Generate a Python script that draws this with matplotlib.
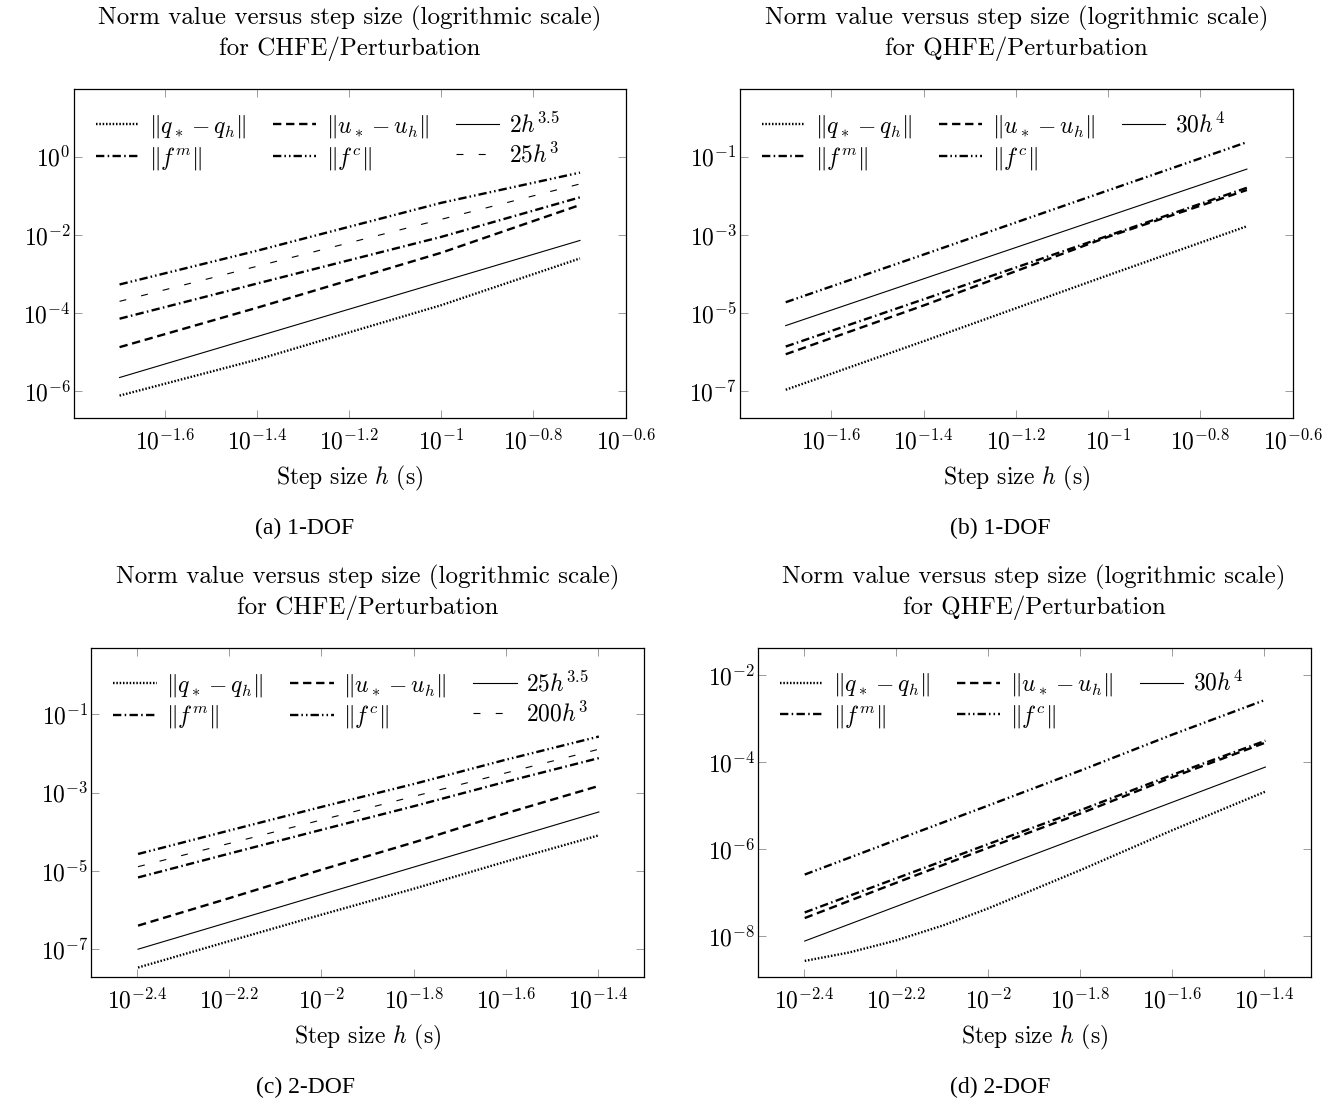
import matplotlib
matplotlib.use('Agg')
import matplotlib.pyplot as plt
from matplotlib.ticker import FixedLocator, NullLocator
from matplotlib.lines import Line2D

# ---------- fonts (LaTeX look) ----------
plt.rcParams['font.family'] = 'serif'
plt.rcParams['font.serif'] = ['cmr10']
plt.rcParams['mathtext.fontset'] = 'cm'
plt.rcParams['axes.unicode_minus'] = False
plt.rcParams['lines.scale_dashes'] = False

# ---------- data ----------
h_1dof = [0.02, 0.04, 0.1, 0.2]
h_2dof = [0.004, 0.0063, 0.01, 0.016, 0.025, 0.04]
h_2dof_fine = [0.004, 0.005, 0.0063, 0.008, 0.01, 0.016, 0.025, 0.04]
h_fit_1dof = [0.02, 0.2]
h_fit_2dof = [0.004, 0.04]

# (a) 1-DOF, CHFE
a_q = [7.8e-7, 6.6e-6, 1.6e-4, 2.5e-3]
a_u = [1.35e-5, 1.4e-4, 3.5e-3, 5.8e-2]
a_fm = [7.2e-5, 5.8e-4, 8.9e-3, 9.1e-2]
a_fc = [5.4e-4, 4.0e-3, 6.6e-2, 0.39]
a_fit1 = [2.26e-6, 7.2e-3]      # 2h^3.5
a_fit2 = [2.0e-4, 0.2]          # 25h^3

# (b) 1-DOF, QHFE
b_q = [1.1e-7, 1.95e-6, 9.3e-5, 1.66e-3]
b_u = [8.9e-7, 1.6e-5, 8.9e-4, 1.4e-2]
b_fm = [1.4e-6, 2.3e-5, 9.5e-4, 1.6e-2]
b_fc = [1.9e-5, 3.2e-4, 1.37e-2, 0.234]
b_fit1 = [4.8e-6, 4.8e-2]       # 30h^4

# (c) 2-DOF, CHFE
c_q = [3.4e-8, 1.6e-7, 7.6e-7, 3.6e-6, 1.7e-5, 8.1e-5]
c_u = [4.0e-7, 2.0e-6, 1.07e-5, 5.5e-5, 2.9e-4, 1.48e-3]
c_fm = [6.8e-6, 2.75e-5, 1.12e-4, 4.6e-4, 1.86e-3, 7.6e-3]
c_fc = [2.7e-5, 1.07e-4, 4.3e-4, 1.7e-3, 6.8e-3, 2.7e-2]
c_fit1 = [1.0e-7, 3.2e-4]       # 25h^3.5
c_fit2 = [1.28e-5, 1.28e-2]     # 200h^3

# (d) 2-DOF, QHFE
d_q = [2.69e-9, 4.21e-9, 7.89e-9, 1.77e-8, 4.32e-8, 3.41e-7, 2.66e-6, 2.1e-5]
d_u = [2.6e-8, 1.66e-7, 1.07e-6, 6.8e-6, 4.4e-5, 2.8e-4]
d_fm = [3.5e-8, 2.1e-7, 1.3e-6, 8.1e-6, 5.0e-5, 3.1e-4]
d_fc = [2.6e-7, 1.6e-6, 1.0e-5, 6.6e-5, 4.2e-4, 2.7e-3]
d_fit1 = [7.7e-9, 7.7e-5]       # 30h^4

xticks_1dof = [-1.6, -1.4, -1.2, -1.0, -0.8, -0.6]
xticks_2dof = [-2.4, -2.2, -2.0, -1.8, -1.6, -1.4]

# ---------- styles ----------
FS = 17
lab_q = r'$\Vert q_* - q_h\Vert$'
lab_u = r'$\Vert u_* - u_h\Vert$'
lab_fm = r'$\Vert f^m\Vert$'
lab_fc = r'$\Vert f^c\Vert$'

st_q = dict(color='k', lw=1.7, ls=(0, (1.1, 1.3)))
st_u = dict(color='k', lw=1.7, ls=(0, (6.0, 3.4)))
st_fm = dict(color='k', lw=1.7, ls=(0, (6.0, 2.4, 1.1, 2.4)))
st_fc = dict(color='k', lw=1.7, ls=(0, (6.0, 2.2, 1.1, 2.2, 1.1, 2.2)))
st_fit1 = dict(color='k', lw=0.8, ls='-')
st_fit2 = dict(color='k', lw=0.8, ls=(0, (5.0, 11.0)))
cap_font = ['Liberation Serif', 'DejaVu Serif']


def tick_label(e):
    if abs(e - round(e)) < 1e-9:
        return r'$10^{%d}$' % int(round(e))
    return r'$10^{%.1f}$' % e


def setup(ax, xt, yt, xlim, ylim):
    ax.set_xscale('log')
    ax.set_yscale('log')
    ax.set_xlim(10 ** xlim[0], 10 ** xlim[1])
    ax.set_ylim(10 ** ylim[0], 10 ** ylim[1])
    ax.xaxis.set_major_locator(FixedLocator([10 ** e for e in xt]))
    ax.yaxis.set_major_locator(FixedLocator([10 ** e for e in yt]))
    ax.xaxis.set_minor_locator(NullLocator())
    ax.yaxis.set_minor_locator(NullLocator())
    ax.set_xticklabels([tick_label(e) for e in xt])
    ax.set_yticklabels([tick_label(e) for e in yt])
    ax.tick_params(direction='in', top=True, right=True, length=6,
                   width=0.6, color='0.55', labelsize=FS)
    ax.tick_params(axis='x', pad=8)
    ax.tick_params(axis='y', pad=2)
    for s in ax.spines.values():
        s.set_linewidth(0.9)
    ax.set_xlabel(r'Step size $h$ (s)', fontsize=FS, labelpad=7)


def title(ax, scheme):
    ax.text(0.5, 1.085, 'Norm value versus step size (logrithmic scale)\nfor %s/Perturbation' % scheme,
            transform=ax.transAxes, ha='center', va='bottom', fontsize=18,
            linespacing=1.3)


def legend(ax, labels_styles):
    handles = [Line2D([], [], **st) for _, st in labels_styles]
    labels = [lab for lab, _ in labels_styles]
    ax.legend(handles, labels, loc='upper left', bbox_to_anchor=(0.04, 0.93),
              ncol=3, frameon=False, fontsize=FS, handlelength=1.85,
              handletextpad=0.4, columnspacing=1.15, labelspacing=0.2,
              borderaxespad=0, borderpad=0)


fig = plt.figure(figsize=(13.42, 11.02), dpi=100)
W, H = 1342, 1102


def add_axes(x0, x1, y0, y1):
    return fig.add_axes([x0 / W, 1 - y1 / H, (x1 - x0) / W, (y1 - y0) / H])


# ---------- (a) ----------
ax = add_axes(73.5, 626, 89.3, 418)
ax.plot(h_1dof, a_q, **st_q)
ax.plot(h_1dof, a_u, **st_u)
ax.plot(h_fit_1dof, a_fit1, **st_fit1)
ax.plot(h_1dof, a_fm, **st_fm)
ax.plot(h_1dof, a_fc, **st_fc)
ax.plot(h_fit_1dof, a_fit2, **st_fit2)
setup(ax, xticks_1dof, [-6, -4, -2, 0], (-1.799, -0.599), (-6.68, 1.72))
legend(ax, [(lab_q, st_q), (lab_fm, st_fm), (lab_u, st_u), (lab_fc, st_fc),
            (r'$2h^{3.5}$', st_fit1), (r'$25h^3$', st_fit2)])
title(ax, 'CHFE')
fig.text(305 / W, 1 - 528 / H, '(a) 1-DOF', ha='center', va='center',
         fontsize=17, family=cap_font)

# ---------- (b) ----------
ax = add_axes(739.6, 1293, 89.3, 418)
ax.plot(h_1dof, b_q, **st_q)
ax.plot(h_1dof, b_u, **st_u)
ax.plot(h_fit_1dof, b_fit1, **st_fit1)
ax.plot(h_1dof, b_fm, **st_fm)
ax.plot(h_1dof, b_fc, **st_fc)
setup(ax, xticks_1dof, [-7, -5, -3, -1], (-1.799, -0.599), (-7.68, 0.72))
legend(ax, [(lab_q, st_q), (lab_fm, st_fm), (lab_u, st_u), (lab_fc, st_fc),
            (r'$30h^4$', st_fit1)])
title(ax, 'QHFE')
fig.text(1000 / W, 1 - 528 / H, '(b) 1-DOF', ha='center', va='center',
         fontsize=17, family=cap_font)

# ---------- (c) ----------
ax = add_axes(91, 644, 647.7, 977)
ax.plot(h_2dof, c_q, **st_q)
ax.plot(h_2dof, c_u, **st_u)
ax.plot(h_fit_2dof, c_fit1, **st_fit1)
ax.plot(h_2dof, c_fm, **st_fm)
ax.plot(h_2dof, c_fc, **st_fc)
ax.plot(h_fit_2dof, c_fit2, **st_fit2)
setup(ax, xticks_2dof, [-7, -5, -3, -1], (-2.5, -1.3), (-7.71, 0.70))
legend(ax, [(lab_q, st_q), (lab_fm, st_fm), (lab_u, st_u), (lab_fc, st_fc),
            (r'$25h^{3.5}$', st_fit1), (r'$200h^3$', st_fit2)])
title(ax, 'CHFE')
fig.text(305 / W, 1 - 1087 / H, '(c) 2-DOF', ha='center', va='center',
         fontsize=17, family=cap_font)

# ---------- (d) ----------
ax = add_axes(757.7, 1310.5, 647.7, 977)
ax.plot(h_2dof_fine, d_q, **st_q)
ax.plot(h_2dof, d_u, **st_u)
ax.plot(h_fit_2dof, d_fit1, **st_fit1)
ax.plot(h_2dof, d_fm, **st_fm)
ax.plot(h_2dof, d_fc, **st_fc)
setup(ax, xticks_2dof, [-8, -6, -4, -2], (-2.5, -1.3), (-8.94, -1.37))
legend(ax, [(lab_q, st_q), (lab_fm, st_fm), (lab_u, st_u), (lab_fc, st_fc),
            (r'$30h^4$', st_fit1)])
title(ax, 'QHFE')
fig.text(1000 / W, 1 - 1087 / H, '(d) 2-DOF', ha='center', va='center',
         fontsize=17, family=cap_font)

fig.savefig('out.png', dpi=100)
